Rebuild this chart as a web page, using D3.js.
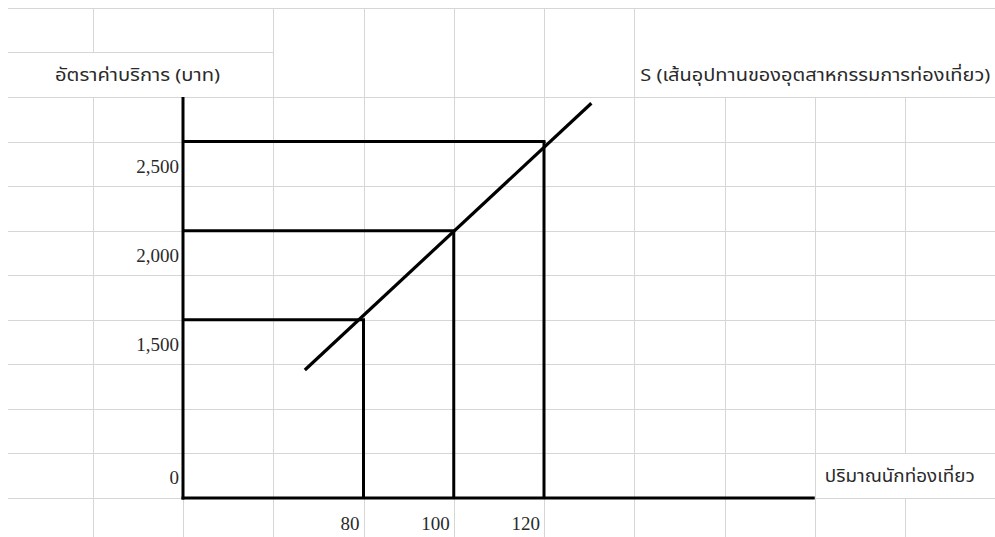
<!DOCTYPE html>
<html>
<head>
<meta charset="utf-8">
<style>
body {
    margin: 0;
    background: #fff;
}
svg {
    display: block;
}
.grid line {
    stroke: #d6d6d6;
    stroke-width: 1;
    shape-rendering: crispEdges;
}
.num {
    font-family: "Liberation Serif", "DejaVu Serif", serif;
    font-size: 19px;
    fill: #2a2a2a;
}
.th {
    font-family: "Noto Sans Thai", "Noto Sans", "DejaVu Sans", sans-serif;
    font-size: 17px;
    fill: #2a2a2a;
}
</style>
</head>
<body>
<script src="https://cdnjs.cloudflare.com/ajax/libs/d3/7.8.5/d3.min.js"></script>
<script>
// quantities / prices
var quantities = [80, 100, 120];
var prices = [1500, 2000, 2500];
var supplyLine = [[67, 1218], [130.5, 2715]];
var yTickLabels = ["1,500", "2,000", "2,500"];
var xTickLabels = ["80", "100", "120"];
var yTitle = "อัตราค่าบริการ (บาท)";
var sTitle = "S (เส้นอุปทานของอุตสาหกรรมการท่องเที่ยว)";
var xTitle = "ปริมาณนักท่องเที่ยว";

var width = 995, height = 537;

// sheet cells: one column = 20 units, one row = 250 baht
var x = d3.scaleLinear().domain([40, 200]).range([183, 905]);
var y = d3.scaleLinear().domain([500, 2750]).range([498, 97]);

var svg = d3.select("body").append("svg")
    .attr("width", width)
    .attr("height", height);

// spreadsheet grid
var grid = svg.append("g").attr("class", "grid");
var colVals = d3.range(20, 201, 20);
var rowVals = d3.range(500, 3251, 250);
var left = 8;

grid.selectAll(".h").data(rowVals).enter().append("line")
    .attr("x1", left)
    .attr("x2", function(d) { return d == 3000 ? x(60) : width; })
    .attr("y1", function(d) { return Math.round(y(d)) + 0.5; })
    .attr("y2", function(d) { return Math.round(y(d)) + 0.5; });

// vertical lines, split per row so merged label cells stay open
var segs = [];
colVals.forEach(function(c) {
    rowVals.concat([250]).forEach(function(r) {
        if (r == 3250) return;
        var top = r + 250, bot = r;
        if (bot >= 2750 && (c == 40 || c > 140)) return; // title cells
        if (bot == 2750 && c == 20) return;               // y title cell
        if (bot == 500 && c == 200) return;              // x title cell
        segs.push({c: c, y1: top, y2: bot});
    });
});
grid.selectAll(".v").data(segs).enter().append("line")
    .attr("x1", function(d) { return Math.round(x(d.c)) + 0.5; })
    .attr("x2", function(d) { return Math.round(x(d.c)) + 0.5; })
    .attr("y1", function(d) { return y(d.y1); })
    .attr("y2", function(d) { return Math.min(height, y(d.y2)); });

var ink = svg.append("g")
    .attr("stroke", "#000")
    .attr("stroke-width", 3)
    .attr("fill", "none");

// axes
ink.append("line")
    .attr("x1", x(40)).attr("x2", x(40))
    .attr("y1", y(2750)).attr("y2", y(500) + 1.5);
ink.append("line")
    .attr("x1", x(40) - 1.5).attr("x2", x(180))
    .attr("y1", y(500)).attr("y2", y(500));

// guide lines
quantities.forEach(function(q, i) {
    ink.append("line")
        .attr("x1", x(40)).attr("x2", x(q) + 1.5)
        .attr("y1", y(prices[i])).attr("y2", y(prices[i]));
    ink.append("line")
        .attr("x1", x(q)).attr("x2", x(q))
        .attr("y1", y(prices[i])).attr("y2", y(500));
});

// supply curve
ink.append("path")
    .attr("d", d3.line().x(function(d) { return x(d[0]); }).y(function(d) { return y(d[1]); })(supplyLine))
    .attr("stroke-width", 3.2);

// tick labels
svg.selectAll(".yl").data(prices).enter().append("text")
    .attr("class", "num")
    .attr("x", x(40) - 4)
    .attr("y", function(d) { return y(d) + 31; })
    .attr("text-anchor", "end")
    .text(function(d, i) { return yTickLabels[i]; });
svg.append("text")
    .attr("class", "num")
    .attr("x", x(40) - 4)
    .attr("y", y(750) + 31)
    .attr("text-anchor", "end")
    .text("0");
svg.selectAll(".xl").data(quantities).enter().append("text")
    .attr("class", "num")
    .attr("x", function(d) { return x(d) - 4; })
    .attr("y", y(500) + 32)
    .attr("text-anchor", "end")
    .text(function(d, i) { return xTickLabels[i]; });

// titles
svg.append("text").attr("class", "th")
    .attr("x", 55).attr("y", y(2750) - 16)
    .attr("textLength", 165).attr("lengthAdjust", "spacingAndGlyphs")
    .text(yTitle);
svg.append("text").attr("class", "th")
    .attr("x", x(140) + 6).attr("y", y(2750) - 16)
    .attr("textLength", 350).attr("lengthAdjust", "spacingAndGlyphs")
    .text(sTitle);
svg.append("text").attr("class", "th")
    .attr("x", x(180) + 10).attr("y", y(500) - 16)
    .attr("textLength", 150).attr("lengthAdjust", "spacingAndGlyphs")
    .text(xTitle);
</script>
</body>
</html>
